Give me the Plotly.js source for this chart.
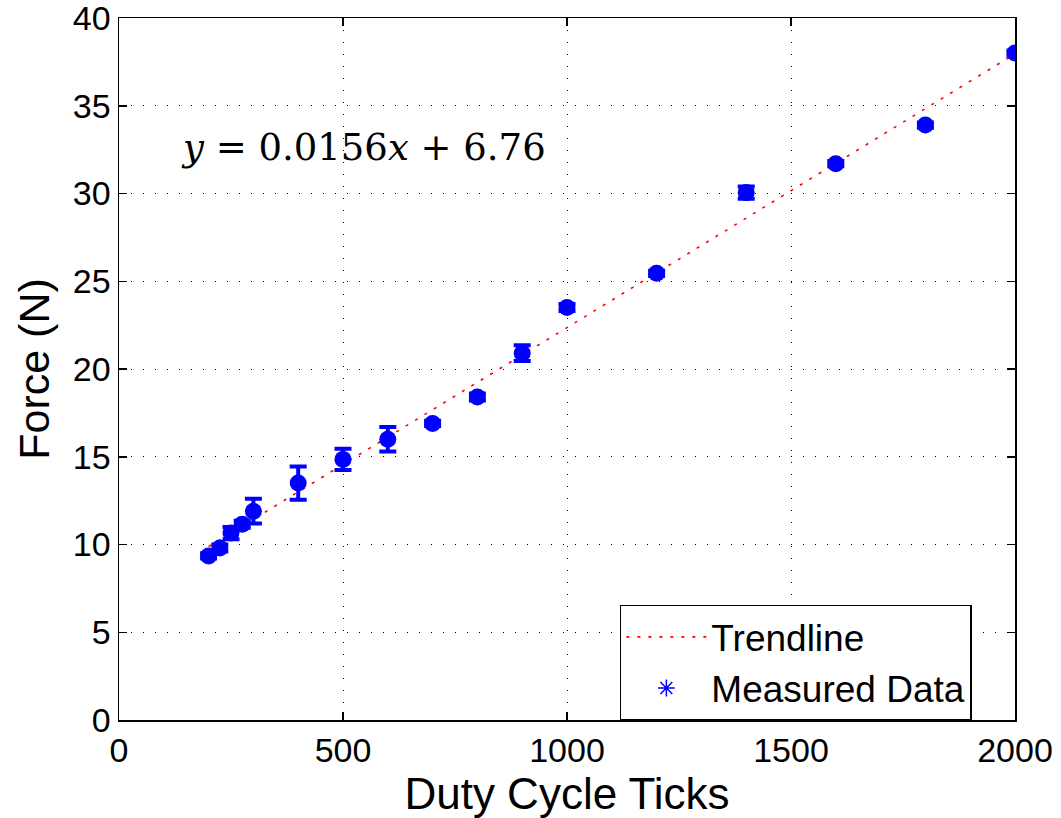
<!DOCTYPE html>
<html>
<head>
<meta charset="utf-8">
<script src="https://cdn.plot.ly/plotly-3.0.1.min.js"></script>
<style>html,body{margin:0;padding:0;background:#fff;}#chart{width:1061px;height:818px;}</style>
</head>
<body>
<div id="chart"></div>
<script>
const dutyTicks = [200, 225, 250, 275, 300, 400, 500, 600, 700, 800, 900, 1000, 1200, 1400, 1600, 1800, 2000];
const forceN    = [9.35, 9.8, 10.65, 11.15, 11.9, 13.5, 14.85, 16.0, 16.9, 18.4, 20.9, 23.5, 25.45, 30.05, 31.7, 33.9, 38.0];
const forceErr  = [0.15, 0.2, 0.35, 0.2, 0.7, 0.95, 0.6, 0.7, 0.15, 0.2, 0.45, 0.2, 0.15, 0.35, 0.15, 0.15, 0.15];
const trendX = [200, 2000];
const trendY = [9.88, 37.96];
const xTicks = [0, 500, 1000, 1500, 2000];
const yTicks = [0, 5, 10, 15, 20, 25, 30, 35, 40];

const blue = '#0000ff';
const traces = [
  {x: trendX, y: trendY, mode: 'lines', name: 'Trendline',
   line: {color: '#ff0000', width: 1.6, dash: '3px,8px'}},
  {x: dutyTicks, y: forceN, mode: 'markers', name: 'Measured Data', showlegend: false,
   marker: {color: blue, size: 17, symbol: 'circle'},
   error_y: {type: 'data', array: forceErr, visible: true, color: blue, thickness: 4, width: 8.5}},
  {x: [null], y: [null], mode: 'markers', name: 'Measured Data',
   marker: {color: blue, size: 14, symbol: 'asterisk-open', line: {color: blue, width: 1.5}}}
];
const axisCommon = {
  showline: true, linecolor: '#000', linewidth: 1.5, mirror: 'ticks',
  ticks: 'inside', ticklen: 8, tickwidth: 1.5, tickcolor: '#000',
  showgrid: true, gridcolor: '#000', gridwidth: 1, griddash: '1px,11px',
  zeroline: false, ticklabeloverflow: 'allow',
  tickfont: {family: 'Liberation Sans, Arial, sans-serif', size: 34, color: '#000'}
};
const layout = {
  width: 1061, height: 818,
  margin: {l: 119, r: 46, t: 18, b: 98},
  paper_bgcolor: '#fff', plot_bgcolor: '#fff',
  font: {family: 'Liberation Sans, Arial, sans-serif', color: '#000'},
  xaxis: Object.assign({}, axisCommon, {
    range: [0, 2000], tickvals: xTicks, ticktext: xTicks.map(String),
    title: {text: 'Duty Cycle Ticks', font: {size: 44, color: '#000'}, standoff: 4}
  }),
  yaxis: Object.assign({}, axisCommon, {
    range: [0, 40], tickvals: yTicks, ticktext: yTicks.map(String),
    title: {text: 'Force (N)', font: {size: 43, color: '#000'}, standoff: 10}
  }),
  showlegend: true,
  legend: {x: 0.559, y: 0.164, xanchor: 'left', yanchor: 'top',
    bgcolor: '#fff', bordercolor: '#000', borderwidth: 1.5,
    font: {size: 37, color: '#000'}, tracegroupgap: 0, itemwidth: 80},
  annotations: [{
    x: 135, y: 32.6, xref: 'x', yref: 'y', xanchor: 'left', yanchor: 'middle',
    text: '<i>y</i> = 0.0156<i>x</i> + 6.76', showarrow: false,
    font: {family: 'DejaVu Serif, Liberation Serif, serif', size: 37, color: '#000'}
  }]
};
Plotly.newPlot('chart', traces, layout, {displayModeBar: false, staticPlot: true});
</script>
</body>
</html>
